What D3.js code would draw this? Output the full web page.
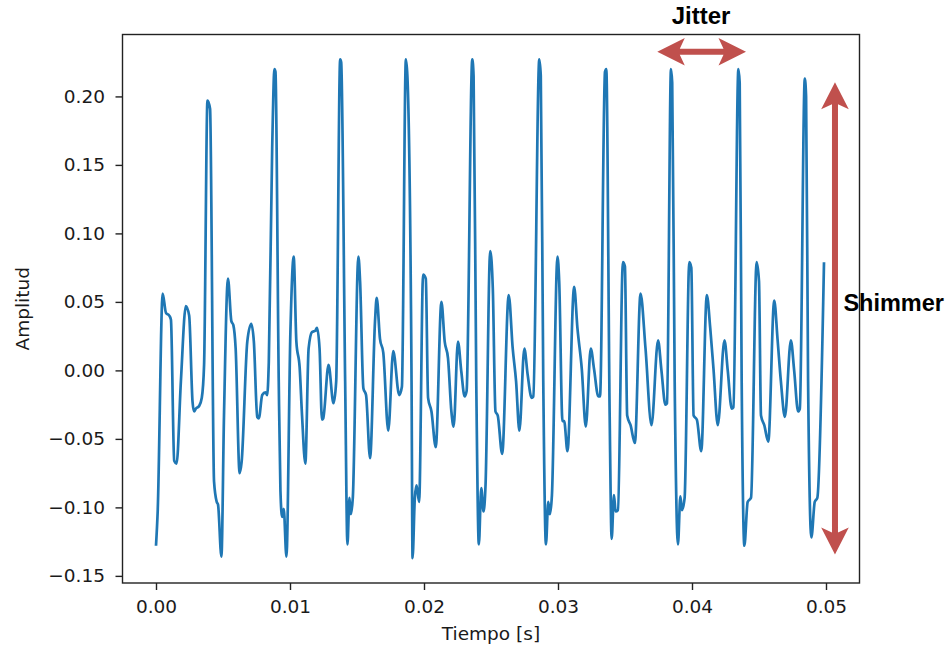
<!doctype html>
<html lang="es">
<head>
  <meta charset="utf-8">
  <title>Jitter y Shimmer</title>
  <script src="https://d3js.org/d3.v7.min.js"></script>
  <style>
    html, body { margin: 0; padding: 0; background: #fff; }
    svg { display: block; }
    .axis text { font-family: "DejaVu Sans", sans-serif; font-size: 18.5px; fill: #1a1a1a; }
    .axis path { display: none; }
    .axis line { stroke: #222; stroke-width: 1.4; }
    .label { font-family: "DejaVu Sans", sans-serif; font-size: 18.5px; fill: #1a1a1a; }
    .note { font-family: "Liberation Sans", Arial, sans-serif; font-weight: bold; font-size: 24px; fill: #000; }
    .signal { fill: none; stroke: #1f77b4; stroke-width: 2.7; stroke-linejoin: round; }
    .arrow { fill: #c0504d; }
  </style>
</head>
<body>
<div id="chart"></div>
<script>
  // tiempo en milisegundos, amplitud en unidades del eje
  const tiempoMs = [
    0, 0.126, 0.498, 0.743, 0.988, 1.114, 1.360, 1.538, 1.857, 2.229, 2.474, 2.727, 2.845, 2.972, 3.217, 3.418, 3.588,
    3.841, 4.034, 4.331, 4.532, 4.629, 4.881, 5.074, 5.371, 5.624, 5.773, 5.944, 6.241, 6.389, 6.813, 7.110, 7.303,
    7.556, 7.675, 7.927, 8.172, 8.299, 8.418, 8.670, 8.841, 8.915, 9.160, 9.287, 9.413, 9.532, 9.733, 10.030, 10.275,
    10.475, 10.721, 10.899, 11.144, 11.389, 11.642, 11.887, 12.013, 12.206, 12.385, 12.481, 12.875, 13.247, 13.447,
    13.744, 13.819, 14.116, 14.287, 14.435, 14.539, 14.688, 15.104, 15.230, 15.475, 15.676, 15.973, 16.345, 16.471,
    16.716, 16.961, 17.333, 17.704, 18.150, 18.351, 18.648, 18.759, 19.071, 19.146, 19.316, 19.443, 19.636, 19.933,
    20.134, 20.305, 20.557, 20.877, 21.300, 21.545, 21.791, 22.043, 22.214, 22.533, 22.786, 23.031, 23.180, 23.603,
    23.700, 23.900, 24.094, 24.272, 24.443, 24.591, 24.941, 25.134, 25.334, 25.505, 25.832, 26.322, 26.620, 26.872,
    27.117, 27.489, 27.734, 28.031, 28.157, 28.603, 28.715, 28.900, 29.101, 29.272, 29.398, 29.547, 29.963, 30.089,
    30.334, 30.461, 30.706, 31.204, 31.449, 31.776, 32.073, 32.444, 32.689, 33.009, 33.135, 33.507, 33.603, 33.856,
    34.004, 34.175, 34.302, 34.473, 34.844, 34.993, 35.163, 35.416, 35.736, 36.159, 36.530, 36.976, 37.467, 37.719,
    38.016, 38.135, 38.432, 38.522, 38.707, 38.952, 39.131, 39.250, 39.450, 39.799, 39.948, 40.119, 40.364, 40.691,
    41.107, 41.360, 41.605, 41.924, 42.422, 42.667, 42.964, 43.091, 43.462, 43.559, 43.707, 43.908, 44.153, 44.405,
    44.822, 45.000, 45.149, 45.394, 45.691, 46.137, 46.382, 46.634, 46.932, 47.377, 47.623, 47.920, 48.046, 48.418,
    48.514, 48.663, 48.908, 49.160, 49.354, 49.851
  ];
  const amplitud = [
    -0.128, -0.103, 0.056, 0.042, 0.040, 0.037, -0.066, -0.068, -0.008, 0.047, 0.040, -0.023, -0.030, -0.028, -0.026, -0.020, 0.004,
    0.197, 0.191, -0.081, -0.096, -0.098, -0.136, -0.033, 0.067, 0.036, 0.033, 0.016, -0.075, -0.067, 0.021, 0.034, 0.021,
    -0.034, -0.035, -0.018, -0.016, -0.018, 0.006, 0.162, 0.220, 0.218, -0.008, -0.088, -0.107, -0.101, -0.136, 0.028, 0.083,
    0.021, 0.002, -0.033, -0.068, 0.016, 0.028, 0.029, 0.031, 0.016, -0.036, -0.035, 0.004, -0.024, -0.008,
    0.227, 0.225, -0.008, -0.127, -0.093, -0.105, -0.093, 0.083, 0.065, -0.013, -0.018, -0.064, 0.036, 0.053,
    0.023, 0.013, -0.044, 0.014, -0.018, -0.012, 0.227, 0.215, -0.008, -0.137, -0.093, -0.084, -0.096, 0.070,
    0.067, -0.020, -0.030, -0.056, 0.050, 0.021, 0.009, -0.030, -0.041, 0.021, -0.001, -0.019, -0.015, 0.227,
    0.215, -0.008, -0.127, -0.086, -0.103, -0.084, 0.087, 0.060, -0.030, -0.033, -0.061, 0.055, 0.016, -0.008,
    -0.044, 0.016, -0.003, -0.020, -0.019, 0.227, 0.215, -0.008, -0.127, -0.096, -0.105, -0.091, 0.083, 0.065,
    -0.037, -0.037, -0.059, 0.061, 0.031, 0.001, -0.041, 0.016, 0.001, -0.019, -0.019, 0.218, 0.220, -0.033,
    -0.123, -0.091, -0.103, -0.102, 0.079, 0.076, -0.033, -0.040, -0.053, 0.056, 0.016, -0.040, 0.022, 0.000,
    -0.025, -0.024, 0.220, 0.210, -0.008, -0.127, -0.092, -0.102, -0.093, 0.079, 0.075, -0.033, -0.036, -0.059,
    0.055, 0.031, 0.001, -0.040, 0.022, 0.000, -0.028, -0.027, 0.220, 0.210, -0.008, -0.128, -0.096, -0.093,
    0.079, 0.065, -0.033, -0.040, -0.052, 0.051, 0.023, -0.008, -0.034, 0.022, 0.000, -0.030, -0.028, 0.213,
    0.200, -0.008, -0.122, -0.096, -0.093, 0.079
  ];

  const xTicks = [0, 0.01, 0.02, 0.03, 0.04, 0.05];
  const yTicks = [-0.15, -0.10, -0.05, 0.00, 0.05, 0.10, 0.15, 0.20];

  // anotaciones en coordenadas de datos
  const jitterArrow = { t0: 0.03741, t1: 0.04403, v: 0.2326 };
  const shimmerArrow = { t: 0.05067, v0: 0.2103, v1: -0.1344 };
  const jitterText = { t: 0.04067, v: 0.2528, text: 'Jitter' };
  const shimmerText = { t: 0.05130, v: 0.0430, text: 'Shimmer' };

  const width = 948, height = 648;
  const margin = { top: 34.5, right: 88.5, bottom: 65, left: 122.5 };
  const innerW = width - margin.left - margin.right;
  const innerH = height - margin.top - margin.bottom;

  const data = tiempoMs.map((t, i) => ({ t: t / 1000, v: amplitud[i] }));

  // margen del 5 % en y, como matplotlib
  const vExt = d3.extent(data, d => d.v);
  const vPad = (vExt[1] - vExt[0]) * 0.05;

  const x = d3.scaleLinear()
    .domain([-0.0025, 0.0525])
    .range([0, innerW]);
  const y = d3.scaleLinear()
    .domain([vExt[0] - vPad, vExt[1] + vPad])
    .range([innerH, 0]);

  const svg = d3.select('#chart').append('svg')
    .attr('width', width).attr('height', height);
  const g = svg.append('g')
    .attr('transform', `translate(${margin.left},${margin.top})`);

  g.append('g')
    .attr('class', 'axis')
    .call(d3.axisLeft(y).tickValues(yTicks).tickSize(7).tickPadding(10.5).tickFormat(d3.format('.2f')));
  g.append('g')
    .attr('class', 'axis')
    .attr('transform', `translate(0,${innerH})`)
    .call(d3.axisBottom(x).tickValues(xTicks).tickSize(7).tickPadding(10).tickFormat(d3.format('.2f')));

  const line = d3.line()
    .x(d => x(d.t))
    .y(d => y(d.v))
    .curve(d3.curveMonotoneX);

  g.append('path')
    .datum(data)
    .attr('class', 'signal')
    .attr('d', line);

  g.append('rect')
    .attr('width', innerW).attr('height', innerH)
    .attr('fill', 'none').attr('stroke', '#222').attr('stroke-width', 1.4);

  g.append('text')
    .attr('class', 'label')
    .attr('x', innerW / 2).attr('y', height - margin.top - 8)
    .attr('text-anchor', 'middle')
    .text('Tiempo [s]');
  g.append('text')
    .attr('class', 'label')
    .attr('transform', 'rotate(-90)')
    .attr('x', -innerH / 2).attr('y', 29 - margin.left)
    .attr('text-anchor', 'middle')
    .text('Amplitud');

  // flecha doble (punta con muesca)
  function doubleArrow(p0, p1, L, H, s, notch) {
    const dx = p1[0] - p0[0], dy = p1[1] - p0[1];
    const len = Math.hypot(dx, dy);
    const ux = dx / len, uy = dy / len;
    const nx = -uy, ny = ux;
    const pt = (a, b) => [p0[0] + ux * a + nx * b, p0[1] + uy * a + ny * b];
    const pts = [
      pt(0, 0), pt(L, -H), pt(L - notch, -s), pt(len - L + notch, -s), pt(len - L, -H),
      pt(len, 0), pt(len - L, H), pt(len - L + notch, s), pt(L - notch, s), pt(L, H)
    ];
    return 'M' + pts.map(p => p.join(',')).join('L') + 'Z';
  }

  g.append('path')
    .attr('class', 'arrow')
    .attr('d', doubleArrow([x(jitterArrow.t0), y(jitterArrow.v)], [x(jitterArrow.t1), y(jitterArrow.v)], 27.5, 13.7, 3, 5));
  g.append('path')
    .attr('class', 'arrow')
    .attr('d', doubleArrow([x(shimmerArrow.t), y(shimmerArrow.v0)], [x(shimmerArrow.t), y(shimmerArrow.v1)], 27, 13.8, 3, 5));

  g.append('text')
    .attr('class', 'note')
    .attr('x', x(jitterText.t)).attr('y', y(jitterText.v))
    .attr('text-anchor', 'middle')
    .text(jitterText.text);
  g.append('text')
    .attr('class', 'note')
    .style('font-size', '23.5px')
    .attr('x', x(shimmerText.t)).attr('y', y(shimmerText.v))
    .text(shimmerText.text);
</script>
</body>
</html>
